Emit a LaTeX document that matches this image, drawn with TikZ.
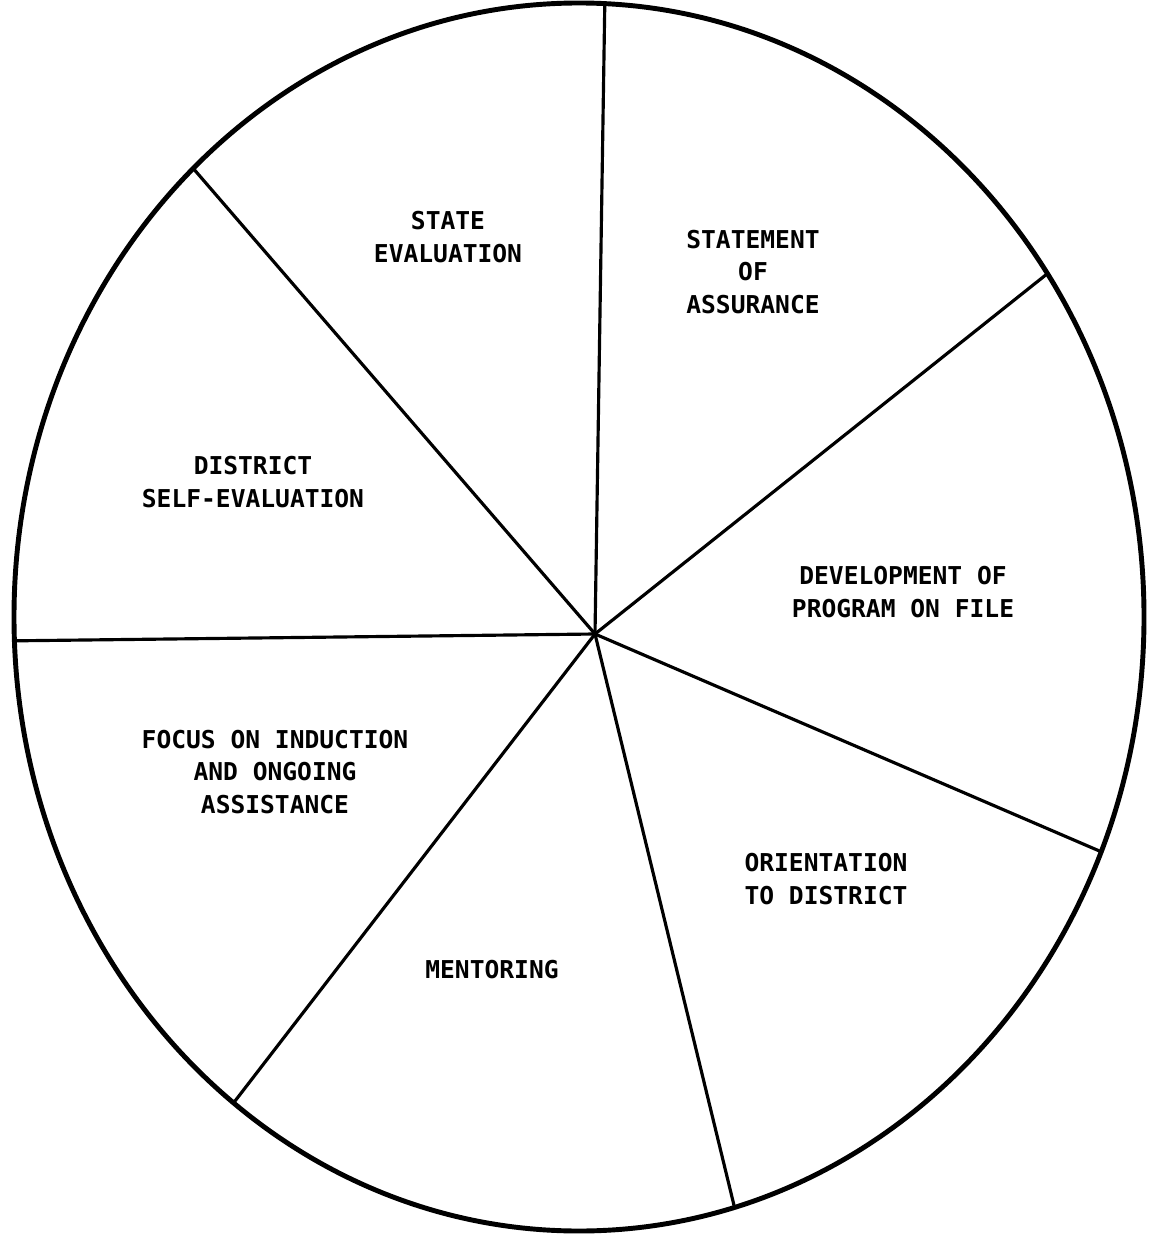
\documentclass[tikz,border=0pt]{standalone}
\usepackage{fontspec}
\setmonofont{DejaVu Sans Mono}
\tikzset{
  rim/.style={line width=2.8pt},
  spoke/.style={line width=1.8pt},
  lbl/.style={font=\ttfamily\bfseries\fontsize{14}{18.5}\selectfont, align=center, inner sep=0pt}
}
\begin{document}
\begin{tikzpicture}[x=0.02cm, y=-0.02cm]
            \useasboundingbox (0, 0) rectangle (1161, 1239);
            \coordinate (o) at (595, 634);
            \coordinate (top) at (605, -10);
            \coordinate (ur) at (1062, 262);
            \coordinate (rl) at (1125, 862);
            \coordinate (bot) at (740, 1230);
            \coordinate (bl) at (225, 1114);
            \coordinate (lft) at (0, 641);
            \coordinate (ul) at (192, 167);
            \begin{scope}
              \clip (579, 617) ellipse (565 and 614);
              \draw[spoke] (o) -- (top);
              \draw[spoke] (o) -- (ur);
              \draw[spoke] (o) -- (rl);
              \draw[spoke] (o) -- (bot);
              \draw[spoke] (o) -- (bl);
              \draw[spoke] (o) -- (lft);
              \draw[spoke] (o) -- (ul);
            \end{scope}
            \draw[rim] (579, 617) ellipse (565 and 614);
            \node[lbl] (stateeval) at (448, 237) {STATE\\EVALUATION};
            \node[lbl] (assurance) at (753, 272) {STATEMENT\\OF\\ASSURANCE};
            \node[lbl] (programfile) at (903, 592) {DEVELOPMENT OF\\PROGRAM ON FILE};
            \node[lbl] (orientation) at (826, 879) {ORIENTATION\\TO DISTRICT};
            \node[lbl] (mentoring) at (492, 970) {MENTORING};
            \node[lbl] (induction) at (275, 772) {FOCUS ON INDUCTION\\AND ONGOING\\ASSISTANCE};
            \node[lbl] (selfeval) at (253, 482) {DISTRICT\\SELF-EVALUATION};
        \end{tikzpicture}
\end{document}
